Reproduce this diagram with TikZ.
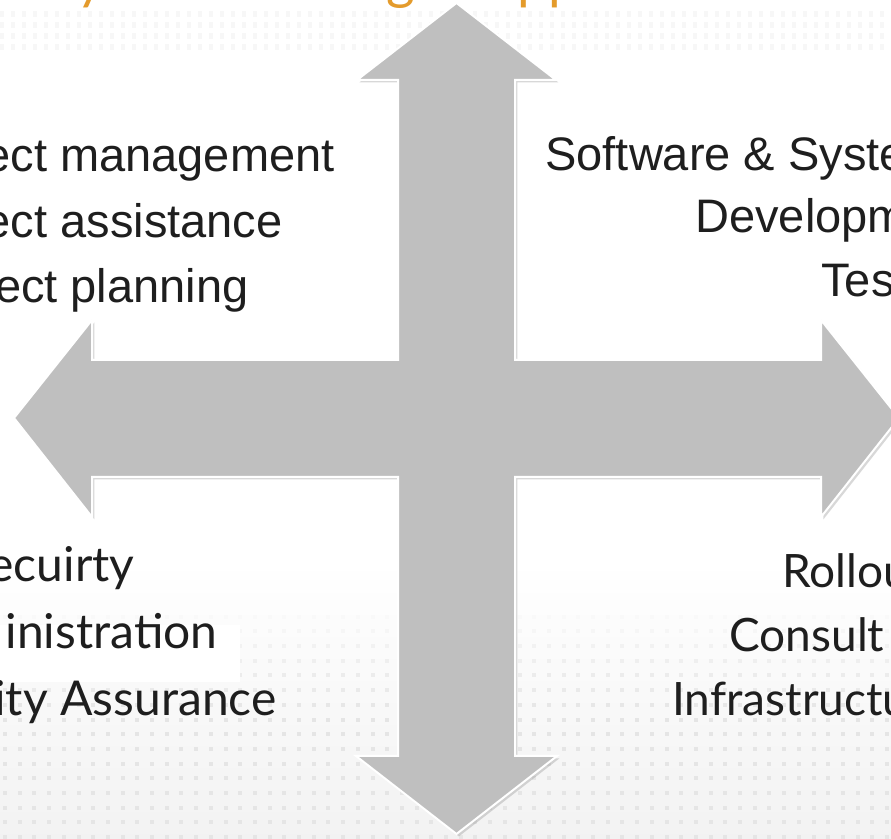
\documentclass[tikz,border=0pt]{standalone}
\usepackage{fontspec}
\setmainfont{Liberation Sans}
\newfontfamily\humanfont{Lato}
\usetikzlibrary{shadows,positioning}
\definecolor{slideorange}{HTML}{E49B2C}
\definecolor{arrowgray}{HTML}{BFBFBF}
\definecolor{listblack}{HTML}{1E1E1E}
\tikzset{cross arrow/.style={fill=arrowgray,draw=white,line width=1pt,line join=miter,
                             drop shadow={opacity=0.3,shadow xshift=1.2pt,shadow yshift=-1.2pt}},
         list text/.style={inner sep=0pt,text=listblack,font=\fontsize{23.5}{28}\selectfont},
         list text b/.style={inner sep=0pt,text=listblack,font=\humanfont\fontsize{24}{28}\selectfont},
         list text c/.style={inner sep=0pt,text=listblack,font=\humanfont\fontsize{23}{28}\selectfont},
         title text/.style={inner sep=0pt,text=slideorange,font=\humanfont\fontsize{27.5}{32}\selectfont},
         bg dot/.style={fill=black!10,draw=none}
}

\begin{document}
\begin{tikzpicture}[x=0.5pt,y=-0.5pt]
\useasboundingbox (0,0) rectangle (891,839);
\clip (0,0) rectangle (891,839);

% background of the slide
\fill[white] (0,0) rectangle (891,839);
\shade[top color=white,bottom color=black!5] (0,560) rectangle (891,839);
\foreach \r in {0,...,3}
  \draw[black!3,line width=3pt,dash pattern=on 2pt off 3.5pt] (0,{14+11*\r}) -- (891,{14+11*\r});
\foreach \r in {0,...,16}{
  \pgfmathsetmacro{\op}{min(1,\r/8)}
  \foreach \c in {0,...,60}
    \fill[bg dot,opacity=\op] ({3+14.7*\c},{600+14.7*\r}) rectangle ++(4,4);
}
\fill[white] (0,625) rectangle (240,682);

% orange title, only its lower part is on the picture
\node[title text,anchor=base] (ty) at (91,-1) {y};
\node[title text,anchor=base] (tg) at (401,-1) {g};
\node[title text,anchor=base west] (tpp) at (517,-1) {pp};

% the four-way arrow
\draw[cross arrow] (456.5,3) -- (556,80) -- (515,80) -- (515,360) -- (821,360) -- (821,320)
  -- (899,418) -- (821,517) -- (821,477) -- (515,477) -- (515,756) -- (557,756)
  -- (456.5,834) -- (356,756) -- (398,756) -- (398,477) -- (92,477) -- (92,517)
  -- (14,418) -- (92,320) -- (92,360) -- (398,360) -- (398,80) -- (357,80) -- cycle;

% top left
\node[list text,anchor=base east] (pm) at (335,172) {ect management};
\node[list text,anchor=base east] (pa) at (283,238) {ect assistance};
\node[list text,anchor=base east] (pp) at (249,303) {ect planning};

% top right
\node[list text,anchor=base west] (sw) at (545,171) {Software \& Syste};
\node[list text,anchor=base west] (dev) at (695,233) {Developm};
\node[list text,anchor=base west] (tes) at (821,297) {Tes};

% bottom left
\node[list text b,anchor=base east] (sec) at (135,582) {ecuirty};
\node[list text b,anchor=base east] (adm) at (218,649) {inistration};
\node[list text b,anchor=base east] (qa) at (277,716) {ity Assurance};

% bottom right
\node[list text c,anchor=base west] (ro) at (782,588) {Rollou};
\node[list text c,anchor=base west] (co) at (729,652) {Consult};
\node[list text c,anchor=base west] (inf) at (672,716) {Infrastructu};
\end{tikzpicture}
\end{document}
